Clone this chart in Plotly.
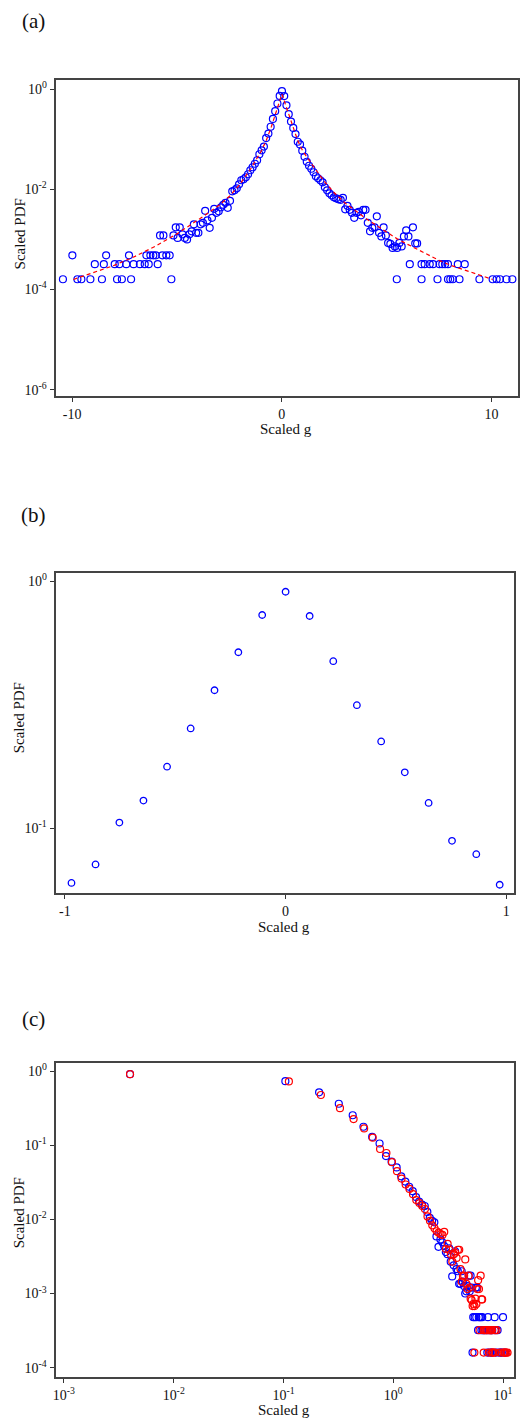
import numpy as np
import plotly.graph_objects as go

# ---------------- data ----------------
# Panel (a): scaled g (bin centres) and log10 of the scaled PDF
g_a = [
    -10.44, -9.99, -9.75, -9.56, -9.13, -8.92, -8.58, -8.49, -8.38, -7.97,
    -7.86, -7.75, -7.63, -7.42, -7.29, -7.19, -7.07, -6.77, -6.54, -6.46,
    -6.35, -6.27, -6.13, -6.01, -5.92, -5.81, -5.70, -5.65, -5.51, -5.35,
    -5.27, -5.17, -5.06, -4.97, -4.87, -4.74, -4.63, -4.52, -4.41, -4.30,
    -4.196, -4.089, -3.981, -3.873, -3.766, -3.658, -3.550, -3.442, -3.335, -3.227,
    -3.119, -3.012, -2.904, -2.796, -2.689, -2.581, -2.473, -2.366, -2.258, -2.150,
    -2.042, -1.935, -1.827, -1.719, -1.612, -1.504, -1.396, -1.288, -1.181, -1.073,
    -0.965, -0.858, -0.750, -0.642, -0.535, -0.427, -0.319, -0.211, -0.104, 0.004,
    0.112, 0.219, 0.327, 0.435, 0.543, 0.650, 0.758, 0.866, 0.973, 1.081,
    1.189, 1.296, 1.404, 1.512, 1.620, 1.727, 1.835, 1.943, 2.050, 2.158,
    2.266, 2.373, 2.481, 2.589, 2.697, 2.804, 2.912, 3.020, 3.127, 3.235,
    3.343, 3.450, 3.558, 3.666, 3.774, 3.881, 3.989, 4.097, 4.204, 4.312,
    4.420, 4.527, 4.635, 4.743, 4.851, 4.958, 5.066, 5.174, 5.281, 5.389,
    5.48, 5.497, 5.604, 5.712, 5.820, 5.927, 6.035, 6.10, 6.25, 6.36,
    6.45, 6.66, 6.66, 6.81, 7.05, 7.21, 7.42, 7.52, 7.65, 7.78,
    7.92, 7.92, 8.03, 8.15, 8.39, 8.47, 8.72, 9.42, 10.05, 10.24,
    10.40, 10.71, 10.99,
]
log10_pdf_a = [
    -3.796, -3.319, -3.796, -3.796, -3.796, -3.495, -3.796, -3.495, -3.319, -3.495,
    -3.796, -3.495, -3.796, -3.495, -3.319, -3.796, -3.495, -3.495, -3.495, -3.319,
    -3.495, -3.319, -3.319, -3.319, -3.495, -2.92, -3.319, -2.92, -3.319, -3.319,
    -3.796, -2.92, -2.76, -2.97, -2.76, -2.90, -2.97, -3.00, -2.90, -2.84,
    -2.70, -2.87, -2.87, -2.70, -2.67, -2.43, -2.62, -2.77, -2.57, -2.39,
    -2.47, -2.44, -2.36, -2.31, -2.27, -2.37, -2.23, -2.04, -2.02, -1.98,
    -1.90, -1.82, -1.80, -1.76, -1.70, -1.62, -1.56, -1.49, -1.42, -1.30,
    -1.222, -1.147, -0.977, -0.888, -0.751, -0.596, -0.441, -0.287, -0.136, -0.042,
    -0.140, -0.323, -0.501, -0.648, -0.774, -0.898, -1.051, -1.105, -1.229, -1.35,
    -1.45, -1.53, -1.59, -1.66, -1.74, -1.78, -1.82, -1.86, -1.96, -2.02,
    -2.08, -2.12, -2.16, -2.18, -2.20, -2.21, -2.17, -2.40, -2.33, -2.41,
    -2.47, -2.57, -2.47, -2.45, -2.52, -2.41, -2.41, -2.67, -2.84, -2.77,
    -2.76, -2.54, -2.87, -2.94, -2.76, -2.92, -3.07, -3.09, -3.17, -3.14,
    -3.796, -3.17, -3.07, -3.14, -2.94, -2.82, -2.94, -3.495, -2.76, -3.08,
    -3.08, -3.495, -3.796, -3.495, -3.495, -3.495, -3.796, -3.495, -3.495, -3.495,
    -3.495, -3.796, -3.796, -3.796, -3.495, -3.796, -3.495, -3.796, -3.796, -3.796,
    -3.796, -3.796, -3.796,
]

# Panel (a): red dashed fit curve
fit_g = [-9.94, -9.0, -8.0, -7.0, -6.0, -5.0, -4.0, -3.5, -3.0, -2.5,
         -2.0, -1.5, -1.0, -0.75, -0.5, -0.25, -0.1, 0.0, 0.1, 0.25,
         0.5, 0.75, 1.0, 1.25, 1.5, 2.0, 2.5, 3.0, 3.5, 4.0,
         4.5, 5.0, 5.5, 6.0, 6.5, 7.0, 7.5, 8.0, 8.5, 9.0,
         9.5, 10.05]
fit_log10_pdf = [-3.80, -3.66, -3.52, -3.34, -3.13, -2.89, -2.62, -2.47, -2.32, -2.14,
                 -1.90, -1.60, -1.25, -1.03, -0.75, -0.42, -0.22, -0.10, -0.22, -0.40,
                 -0.74, -1.02, -1.24, -1.40, -1.54, -1.83, -2.07, -2.27, -2.43, -2.58,
                 -2.72, -2.86, -2.99, -3.10, -3.21, -3.32, -3.42, -3.51, -3.58, -3.65,
                 -3.72, -3.80]

# Panel (b): central part
g_b = [-0.970, -0.861, -0.753, -0.644, -0.537, -0.430, -0.322, -0.214, -0.106, 0.0,
       0.109, 0.216, 0.323, 0.433, 0.540, 0.648, 0.754, 0.864, 0.970]
pdf_b = [0.0600, 0.0713, 0.1054, 0.1294, 0.1775, 0.2537, 0.3623, 0.5164, 0.7311, 0.908,
         0.7244, 0.4750, 0.3152, 0.2248, 0.1684, 0.1266, 0.0889, 0.0785, 0.0590]

# tick labels
ticks_a_x = [-10, 0, 10]
ticktext_a_x = ["-10", "0", "10"]
ticks_a_y = [1, 1e-2, 1e-4, 1e-6]
ticktext_a_y = ["10<sup>0</sup>", "10<sup>-2</sup>", "10<sup>-4</sup>", "10<sup>-6</sup>"]
ticks_b_x = [-1, 0, 1]
ticktext_b_x = ["-1", "0", "1"]
ticks_b_y = [1, 0.1]
ticktext_b_y = ["10<sup>0</sup>", "10<sup>-1</sup>"]
ticks_c_x = [1e-3, 1e-2, 1e-1, 1, 10]
ticktext_c_x = ["10<sup>-3</sup>", "10<sup>-2</sup>", "10<sup>-1</sup>", "10<sup>0</sup>", "10<sup>1</sup>"]
ticks_c_y = [1, 1e-1, 1e-2, 1e-3, 1e-4]
ticktext_c_y = ["10<sup>0</sup>", "10<sup>-1</sup>", "10<sup>-2</sup>", "10<sup>-3</sup>", "10<sup>-4</sup>"]

# ---------------- derived ----------------
ga = np.array(g_a)
pa = 10 ** np.array(log10_pdf_a)
fit_pdf = 10 ** np.array(fit_log10_pdf)
neg = ga < 0.01
pos = ga > 0.0
gc_blue, pc_blue = np.abs(ga[neg]), pa[neg]
gc_red, pc_red = ga[pos], pa[pos]

BLUE = "#0000ff"
RED = "#ff0000"
FONT = "Liberation Serif, DejaVu Serif, serif"
W, H = 520, 1419

fig = go.Figure()

mk = dict(symbol="circle-open", size=7, color=BLUE, line=dict(width=1.2, color=BLUE))

# (a)
fig.add_trace(go.Scatter(x=ga, y=pa, mode="markers", marker=mk, xaxis="x", yaxis="y", showlegend=False))
fig.add_trace(go.Scatter(x=fit_g, y=fit_pdf, mode="lines",
                         line=dict(color=RED, width=1.2, dash="4px,3px"),
                         xaxis="x", yaxis="y", showlegend=False))
# (b)
fig.add_trace(go.Scatter(x=g_b, y=pdf_b, mode="markers",
                         marker=dict(symbol="circle-open", size=6.5, color=BLUE, line=dict(width=1.3, color=BLUE)),
                         xaxis="x2", yaxis="y2", showlegend=False))
# (c)
fig.add_trace(go.Scatter(x=gc_blue, y=pc_blue, mode="markers", marker=mk,
                         xaxis="x3", yaxis="y3", showlegend=False))
fig.add_trace(go.Scatter(x=gc_red, y=pc_red, mode="markers",
                         marker=dict(symbol="circle-open", size=7, color=RED, line=dict(width=1.2, color=RED)),
                         xaxis="x3", yaxis="y3", showlegend=False))


def py(px):
    return 1 - px / H


axis_common = dict(showline=True, mirror=True, linecolor="#444", linewidth=2,
                   ticks="outside", ticklen=4, tickwidth=1, tickcolor="#333",
                   showgrid=False, zeroline=False)

xfont = dict(family=FONT, size=14, color="#111")
yfont = dict(family=FONT, size=14, color="#111")

fig.update_layout(
    width=W, height=H, autosize=False,
    margin=dict(l=0, r=0, t=0, b=0),
    paper_bgcolor="white", plot_bgcolor="white",
    xaxis=dict(domain=[53 / W, 519 / W], anchor="y", range=[-10.79, 11.26],
               tickvals=ticks_a_x, ticktext=ticktext_a_x, tickfont=xfont, **axis_common),
    yaxis=dict(domain=[py(395), py(78)], anchor="x", type="log", range=[-6.13, 0.185],
               tickvals=ticks_a_y, ticktext=ticktext_a_y, tickfont=yfont, **axis_common),
    xaxis2=dict(domain=[53 / W, 515 / W], anchor="y2", range=[-1.042, 1.035],
                tickvals=ticks_b_x, ticktext=ticktext_b_x, tickfont=xfont, **axis_common),
    yaxis2=dict(domain=[py(893), py(572)], anchor="x2", type="log", range=[-1.263, 0.035],
                tickvals=ticks_b_y, ticktext=ticktext_b_y, tickfont=yfont, **axis_common),
    xaxis3=dict(domain=[53 / W, 515 / W], anchor="y3", type="log", range=[-3.076, 1.10],
                tickvals=ticks_c_x, ticktext=ticktext_c_x, tickfont=xfont, **axis_common),
    yaxis3=dict(domain=[py(1378), py(1063)], anchor="x3", type="log", range=[-4.127, 0.112],
                tickvals=ticks_c_y, ticktext=ticktext_c_y, tickfont=yfont, **axis_common),
)

tfont = dict(family=FONT, size=15, color="#111")
lfont = dict(family=FONT, size=21, color="#111")
ann = []
for label, ly in [("(a)", 19), ("(b)", 514), ("(c)", 1019)]:
    ann.append(dict(text=label, x=31 / W, y=py(ly), xref="paper", yref="paper",
                    showarrow=False, font=lfont, xanchor="center", yanchor="middle"))
for cy in [232, 717, 1213]:
    ann.append(dict(text="Scaled PDF", x=17 / W, y=py(cy), xref="paper", yref="paper",
                    showarrow=False, font=tfont, textangle=-90, xanchor="center", yanchor="middle"))
for cx, cy in [(285, 428), (283, 927), (283, 1411)]:
    ann.append(dict(text="Scaled g", x=cx / W, y=py(cy), xref="paper", yref="paper",
                    showarrow=False, font=tfont, xanchor="center", yanchor="middle"))
fig.update_layout(annotations=ann)

fig.write_html("out.html", config={"displayModeBar": False},
               post_script="document.body.style.margin='0';document.body.style.overflow='hidden';")
